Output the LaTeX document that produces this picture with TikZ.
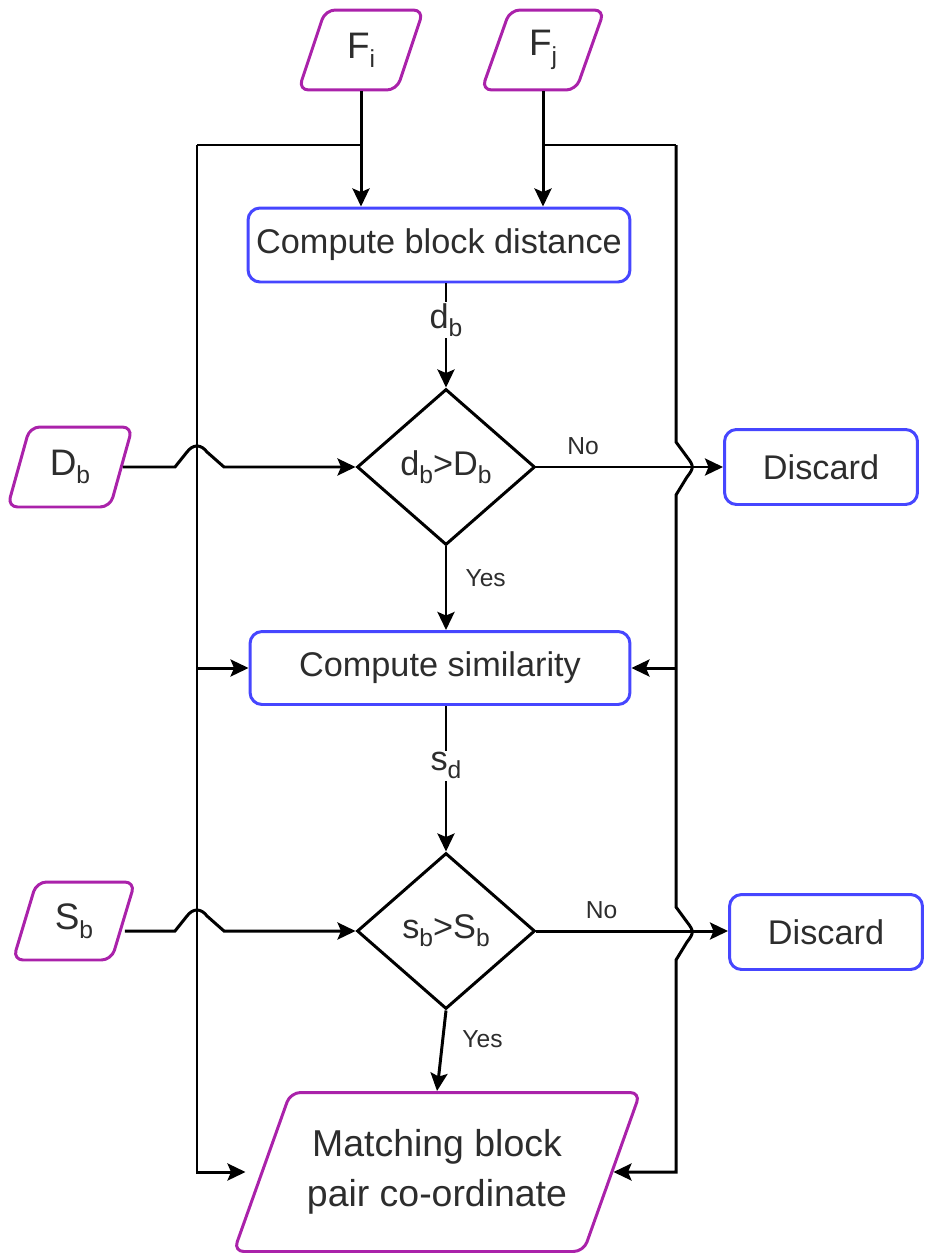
\documentclass[tikz,border=0pt]{standalone}
\usepackage{fontspec}
\setmainfont{Liberation Sans}
\usetikzlibrary{shapes.geometric, arrows.meta}
\definecolor{purp}{RGB}{170,34,170}
\definecolor{blu}{RGB}{70,70,255}
\definecolor{txt}{RGB}{45,45,45}
\newcommand\sbt[1]{\raisebox{-0.45ex}{\fontsize{14}{16}\selectfont #1}}
\begin{document}
\begin{tikzpicture}[x=0.02cm,y=-0.02cm,
  line width=1.7pt, font=\fontsize{19.5}{23}\selectfont, text=txt,
  arr/.style={-{Stealth[length=0.36cm,width=0.34cm,inset=0.07cm]}},
  proc/.style={draw=blu, rounded corners=0.24cm, minimum height=1.48cm, inner sep=0pt},
  io/.style={trapezium, trapezium stretches=true, draw=purp, rounded corners=0.2cm, inner sep=0pt},
  dec/.style={diamond, draw=black, inner sep=0pt, minimum width=3.56cm, minimum height=3.12cm},
  lab/.style={font=\fontsize{14}{16}\selectfont}
]
\useasboundingbox (0,0) rectangle (924,1254);

% nodes
\node[io, trapezium left angle=73, trapezium right angle=107, minimum width=2.5cm, minimum height=1.6cm, font=\fontsize{21}{24}\selectfont] (Fi) at (361,50) {F\sbt{i}};
\node[io, trapezium left angle=73, trapezium right angle=107, minimum width=2.46cm, minimum height=1.6cm, font=\fontsize{21}{24}\selectfont] (Fj) at (543,50) {F\sbt{j}};
\node[io, trapezium left angle=72, trapezium right angle=108, minimum width=2.5cm, minimum height=1.6cm, font=\fontsize{21}{24}\selectfont] (Db) at (70,467) {D\sbt{b}};
\node[io, trapezium left angle=71, trapezium right angle=109, minimum width=2.44cm, minimum height=1.56cm, font=\fontsize{21}{24}\selectfont] (Sb) at (74,921) {S\sbt{b}};
\node[io, trapezium left angle=59.4, trapezium right angle=120.6, minimum width=8.14cm, minimum height=3.18cm, align=center, font=\fontsize{21.3}{28.5}\selectfont] (M) at (437,1172) {Matching block\\pair co-ordinate};

\node[proc, minimum width=7.64cm] (cbd) at (439,245) {Compute block distance};
\node[dec] (d1) at (446,467) {d\sbt{b}>D\sbt{b}};
\node[proc, minimum width=7.6cm, minimum height=1.46cm] (cs) at (440,668) {Compute similarity};
\node[dec] (d2) at (446,931) {s\sbt{b}>S\sbt{b}};
\node[proc, minimum width=3.86cm, minimum height=1.5cm] (x1) at (821,467) {Discard};
\node[proc, minimum width=3.86cm, minimum height=1.5cm] (x2) at (826,932) {Discard};

\coordinate (jL) at (197,145);
\coordinate (jR) at (676,145);

% connectors
\draw[arr] (Fi.south) -- (Fi.south |- cbd.north);
\draw[arr] (Fj.south) -- (Fj.south |- cbd.north);
\draw (Fi.south |- jL) -- (jL);
\draw (Fj.south |- jR) -- (jR);
\draw[arr, shorten >=0.3cm] (jL) |- (M.west);
\draw[arr] (jL |- cs.west) -- (cs.west);
\draw[arr] (jR |- cs.east) -- (cs.east);
\draw[arr] (jR) -- (676,442) -- (687,457) .. controls (694,466) and (694,468) .. (687,477) -- (676,495)
   -- (676,907) -- (687,922) .. controls (694,931) and (694,933) .. (687,942) -- (676,960) |- (M.east);

\draw[arr] (cbd.south -| d1.north) -- (d1.north) node[pos=0.35, fill=white, inner sep=1pt] {d\sbt{b}};
\draw[arr] (Db.east |- d1.west) -- (175,467) -- (187,452) .. controls (193,444) and (201,444) .. (207,452) -- (224,467) -- (d1.west);
\draw[arr] (d1.east) -- (x1.west) node[lab, pos=0.25, above=3pt] {No};
\draw[arr] (d1.south) -- (d1.south |- cs.north) node[lab, pos=0.38, right=7pt] {Yes};
\draw[arr] (d2.north |- cs.south) -- (d2.north) node[pos=0.41, fill=white, inner sep=1pt] {s\sbt{d}};
\draw[arr] (Sb.east |- d2.west) -- (175,931) -- (187,916) .. controls (193,908) and (201,908) .. (207,916) -- (224,931) -- (d2.west);
\draw[arr] (d2.east) -- (d2.east -| x2.west) node[lab, pos=0.34, above=3pt] {No};
\draw[arr] (d2.south) -- (M.north) node[lab, pos=0.36, right=7pt] {Yes};
\end{tikzpicture}
\end{document}
